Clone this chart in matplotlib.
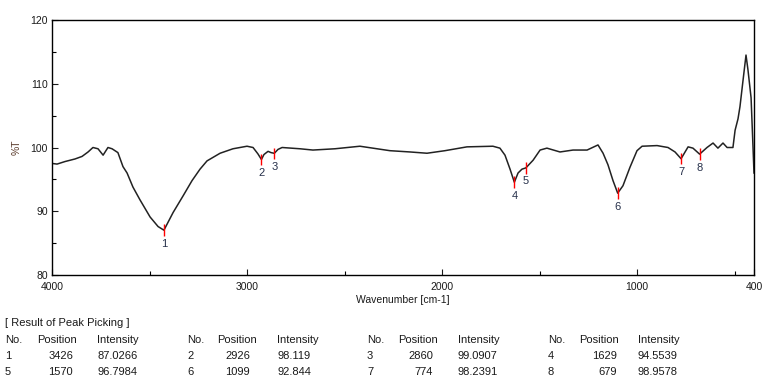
import numpy as np
import matplotlib
matplotlib.use("Agg")
import matplotlib.pyplot as plt

# IR spectrum (wavenumber cm-1, %T)
wavenumber = [4000, 3974, 3933, 3882, 3846, 3815, 3790, 3764, 3738, 3713,
              3692, 3662, 3636, 3615, 3585, 3549, 3497, 3456, 3426, 3379,
              3328, 3282, 3241, 3205, 3138, 3072, 3000, 2969, 2944, 2926,
              2913, 2892, 2877, 2860, 2841, 2820, 2728, 2662, 2549, 2421,
              2267, 2164, 2077, 1985, 1872, 1739, 1703, 1677, 1651, 1629,
              1610, 1590, 1570, 1533, 1497, 1462, 1395, 1328, 1256, 1200,
              1174, 1149, 1123, 1099, 1072, 1036, 1000, 974, 897, 841,
              805, 774, 738, 713, 679, 641, 610, 585, 559, 538,
              508, 497, 482, 472, 456, 441, 431, 415, 405, 400]
transmittance = [97.5, 97.4, 97.8, 98.2, 98.6, 99.3, 100.0, 99.8, 98.8, 100.0,
                 99.8, 99.2, 97.0, 96.0, 93.8, 91.8, 89.1, 87.6, 87.03, 89.8,
                 92.4, 94.8, 96.6, 97.9, 99.1, 99.8, 100.2, 100.0, 99.0, 98.12,
                 98.9, 99.4, 99.2, 99.09, 99.7, 100.0, 99.8, 99.6, 99.8, 100.2,
                 99.5, 99.3, 99.1, 99.5, 100.1, 100.2, 99.9, 98.8, 96.6, 94.55,
                 96.0, 96.6, 96.8, 98.0, 99.6, 99.9, 99.3, 99.6, 99.6, 100.4,
                 99.1, 97.3, 94.8, 92.84, 94.0, 96.9, 99.5, 100.2, 100.3, 100.0,
                 99.3, 98.24, 100.1, 99.9, 98.96, 100.0, 100.7, 99.9, 100.7, 100.0,
                 100.0, 102.7, 104.5, 106.4, 110.6, 114.5, 112.2, 107.8, 100.0, 96.0]

# peak picking result
peak_no = [1, 2, 3, 4, 5, 6, 7, 8]
peak_pos = [3426, 2926, 2860, 1629, 1570, 1099, 774, 679]
peak_int = ["87.0266", "98.119", "99.0907", "94.5539",
            "96.7984", "92.844", "98.2391", "98.9578"]

W, H = 765, 378
plt.rcParams["font.family"] = ["Liberation Sans", "DejaVu Sans"]
fig = plt.figure(figsize=(W / 100, H / 100), dpi=100)
ax = fig.add_axes([52 / W, 1 - 275 / H, (754 - 52) / W, (275 - 20) / H])

ax.plot(wavenumber, transmittance, color="#222222", lw=1.1)

for n, p, v in zip(peak_no, peak_pos, peak_int):
    v = float(v)
    ax.vlines(p, v - 0.9, v + 0.9, color="red", lw=1.0)
    ax.text(p, v - 2.1, str(n), ha="center", va="center", fontsize=8, color="#26304a")

ax.set_xlim(4000, 400)
ax.set_ylim(80, 120)
ax.set_xticks([4000, 3000, 2000, 1000, 400])
ax.set_xticks([3500, 2500, 1500, 500], minor=True)
ax.set_yticks([80, 90, 100, 110, 120])
ax.set_yticks([85, 95, 105, 115], minor=True)
ax.tick_params(direction="in", length=4.3, width=0.8, labelsize=7.5,
               colors="#1a1a1a", pad=3)
ax.tick_params(which="minor", direction="in", length=3.2, width=0.8)
ax.tick_params(axis="x", pad=5)
for s in ax.spines.values():
    s.set_linewidth(1.0)

ax.set_xlabel("Wavenumber [cm-1]", fontsize=7.5, color="#1a1a1a", labelpad=2)
ax.set_ylabel("%T", fontsize=7.5, color="#5a3a2a", labelpad=6)

# peak table
def put(x, y, s, ha="left"):
    fig.text(x / W, 1 - y / H, s, ha=ha, va="center", fontsize=8, color="#1a1a1a")

put(5, 323, "[ Result of Peak Picking ]")
no_x = [5, 187, 367, 548]
pos_x = [37, 217, 398, 579]
pos_right = [73, 250, 433, 617]
int_x = [97, 277, 458, 638]
for g in range(4):
    put(no_x[g], 340, "No.")
    put(pos_x[g], 340, "Position")
    put(int_x[g], 340, "Intensity")
for i in range(len(peak_no)):
    g = i % 4
    y = 356 if i < 4 else 372
    put(no_x[g], y, str(peak_no[i]))
    put(pos_right[g], y, str(peak_pos[i]), ha="right")
    put(int_x[g], y, peak_int[i])

fig.savefig("out.png", dpi=100)
